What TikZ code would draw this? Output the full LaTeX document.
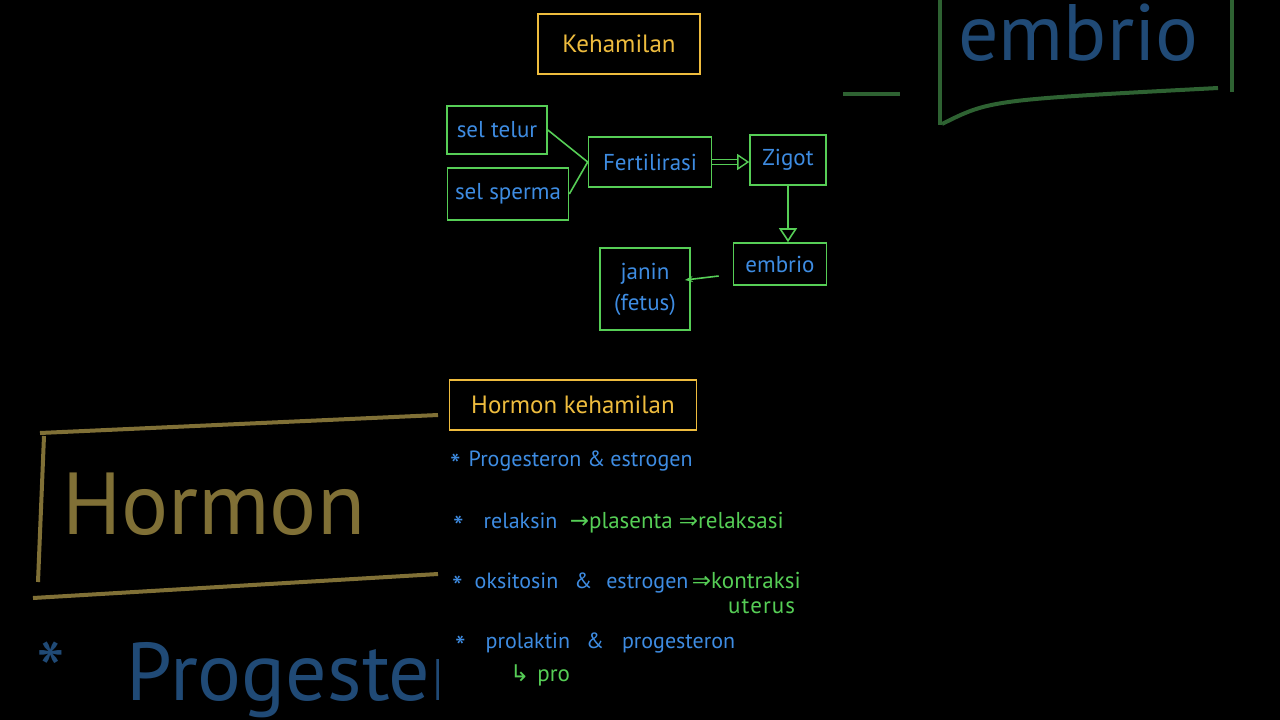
\documentclass[tikz,border=0pt]{standalone}
\usepackage{fontspec}
\setmainfont{PT Sans}
\newfontfamily\symfont{DejaVu Sans}
\usetikzlibrary{arrows.meta}

\definecolor{chalkgreen}{RGB}{86,206,86}
\definecolor{chalkblue}{RGB}{62,140,226}
\definecolor{chalkyellow}{RGB}{238,188,62}
\definecolor{dimgold}{RGB}{128,112,54}
\definecolor{dimgreen}{RGB}{46,98,50}
\definecolor{dimblue}{RGB}{32,74,118}

\newcommand{\bullast}{\raisebox{-9pt}{\fontsize{30}{30}\selectfont *}}

\tikzset{
	box/.style={draw=chalkgreen, line width=1.6pt, text=chalkblue, font=\fontsize{23}{31}\selectfont, inner sep=0pt, align=center},
	titlebox/.style={draw=chalkyellow, line width=1.6pt, text=chalkyellow, font=\fontsize{25}{27}\selectfont, inner sep=0pt},
	link/.style={chalkgreen, line width=1.6pt},
	dbl/.style={chalkgreen, line width=1.4pt, double=black, double distance=4pt, -{Triangle[open, length=12pt, width=16pt]}},
	item/.style={text=chalkblue, font=\fontsize{22}{24}\selectfont, anchor=base west, inner sep=0pt},
	note/.style={text=chalkgreen, font=\fontsize{23}{25}\selectfont, anchor=base west, inner sep=0pt}
}

\begin{document}
\begin{tikzpicture}[x=1pt,y=-1pt]
	\fill[black] (0,0) rectangle (1280,720);
	\useasboundingbox (0,0) rectangle (1280,720);

	% blurred side views
	\begin{scope}
		\clip (0,0) rectangle (438,720);
		\draw[dimgold, line width=4pt] (40,433) -- (438,415);
		\draw[dimgold, line width=4pt] (44,436) -- (38,582);
		\draw[dimgold, line width=4pt] (33,598) -- (438,574);
		\node[text=dimgold, font=\fontsize{88}{90}\selectfont, anchor=base west, inner sep=0pt] (bigh) at (62,534) {Hormon};
		\node[text=dimblue, font=\fontsize{82}{90}\selectfont, anchor=base west, inner sep=0pt] (bigp) at (36,700) {*\hspace{62pt}Progesteron};
	\end{scope}
	\begin{scope}
		\clip (842,0) rectangle (1280,720);
		\draw[dimgreen, line width=4pt] (843,94) -- (900,94);
		\draw[dimgreen, line width=4pt] (940,0) -- (940,125);
		\draw[dimgreen, line width=4pt] (942,124) .. controls (990,100) .. (1218,88);
		\draw[dimgreen, line width=4pt] (1232,0) -- (1232,92);
		\node[text=dimblue, font=\fontsize{80}{84}\selectfont, anchor=base west, inner sep=0pt] (bige) at (958,60) {embrio};
	\end{scope}

	% Kehamilan
	\node[titlebox, minimum width=162, minimum height=60] (keh) at (619,44) {Kehamilan};

	\node[box, minimum width=100, minimum height=48] (telur) at (497,130) {sel telur};
	\node[box, minimum width=121, minimum height=52] (sperma) at (508,194) {sel sperma};
	\node[box, minimum width=123, minimum height=50] (fert) at (650,162) {Fertilirasi};
	\node[box, minimum width=76, minimum height=50] (zig) at (788,160) {Zigot};
	\node[box, minimum width=93, minimum height=42] (emb) at (780,264) {embrio};
	\node[box, minimum width=90, minimum height=82] (janin) at (645,289) {janin\\(fetus)};

	\draw[link] (telur.east) -- (fert.west);
	\draw[link] (sperma.east) -- (fert.west);
	\draw[dbl] (fert.east) -- (fert.east -| zig.west);
	\draw[link, -{Triangle[open, length=14pt, width=18pt]}] (zig.south) -- (zig.south |- emb.north);
	\draw[link, -{Stealth[length=8pt]}] ([shift={(-14,12)}]emb.west) -- ([shift={(-6,-9)}]janin.east);

	% Hormon kehamilan
	\node[titlebox, minimum width=247, minimum height=50] (horm) at (573,405) {Hormon kehamilan};

	\node[item] (p1) at (450,466) {\bullast\hspace{8pt}Progesteron\hspace{6pt}\&\hspace{5pt}estrogen};
	\node[item] (p2) at (453,528) {\bullast\hspace{20pt}relaksin};
	\node[note] (n2) at ([xshift=12pt]p2.base east) {{\symfont →}plasenta\hspace{6pt}{\symfont ⇒}relaksasi};
	\node[item] (p3) at (452,588) {\bullast\hspace{12pt}oksitosin\hspace{16pt}\&\hspace{14pt}estrogen};
	\node[note] (n3) at ([xshift=3pt]p3.base east) {{\symfont ⇒}kontraksi};
	\node[note] (n3b) at (728,613) {u\hspace{1pt}t\hspace{1pt}e\hspace{1pt}r\hspace{1pt}u\hspace{1pt}s};
	\node[item] (p4) at (455,648) {\bullast\hspace{20pt}prolaktin\hspace{16pt}\&\hspace{18pt}progesteron};
	\node[note] (n4) at (510,681) {{\symfont ↳}\hspace{8pt}pro};
\end{tikzpicture}
\end{document}
